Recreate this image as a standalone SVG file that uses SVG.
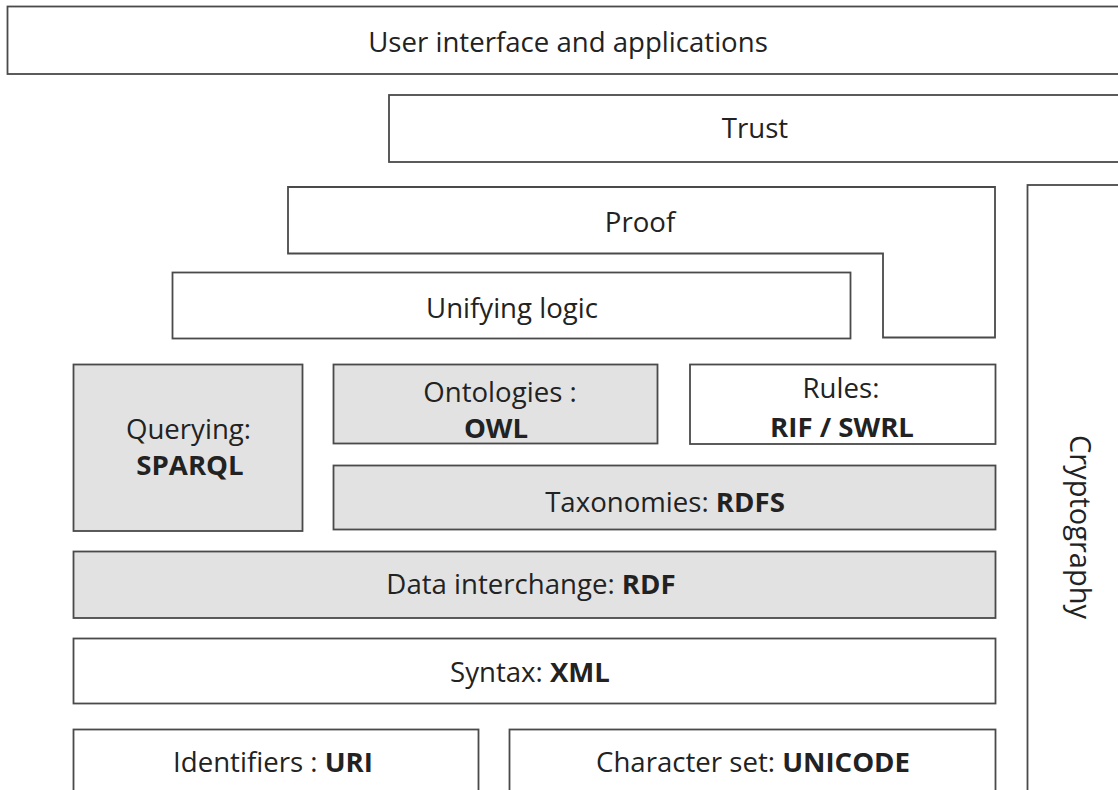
<svg xmlns="http://www.w3.org/2000/svg" width="1118" height="790" viewBox="0 0 1118 790">
<style>
.box{fill:#ffffff;stroke:#4a4a4a;stroke-width:1.8}
.grey{fill:#e2e2e2}
.t{font-family:"Open Sans","Noto Sans","Liberation Sans",sans-serif;font-size:27.6px;fill:#222;text-anchor:middle}
.b{font-weight:bold}
</style>
<rect width="1118" height="790" fill="#ffffff"/>
<g id="ui"><rect class="box" x="7.5" y="6.5" width="1130" height="67.5"/><text class="t" x="568" y="52">User interface and applications</text></g>
<g id="trust"><rect class="box" x="389" y="95" width="760" height="67"/><text class="t" x="755" y="138">Trust</text></g>
<g id="proof"><polygon class="box" points="288,187 995,187 995,337.5 883,337.5 883,253.5 288,253.5"/><text class="t" x="640" y="232">Proof</text></g>
<g id="crypto"><rect class="box" x="1027.5" y="185" width="120" height="700"/><text class="t" style="font-size:29px" transform="translate(1070,527) rotate(90)" x="0" y="0">Cryptography</text></g>
<g id="unifying"><rect class="box" x="172.5" y="272.5" width="678" height="66"/><text class="t" x="512" y="318">Unifying logic</text></g>
<g id="querying"><rect class="box grey" x="73.5" y="364.5" width="229" height="166.5"/><text class="t" x="188.5" y="439">Querying:</text><text class="t b" x="190" y="475">SPARQL</text></g>
<g id="ontologies"><rect class="box grey" x="333.5" y="364.5" width="324" height="79"/><text class="t" x="500" y="401.5">Ontologies :</text><text class="t b" x="496" y="437.5">OWL</text></g>
<g id="rules"><rect class="box" x="690" y="364.5" width="305.5" height="79.5"/><text class="t" x="841" y="398">Rules:</text><text class="t b" x="842" y="436.5">RIF / SWRL</text></g>
<g id="taxonomies"><rect class="box grey" x="333.5" y="465.5" width="662" height="64"/><text class="t" x="665" y="511.5">Taxonomies: <tspan class="b">RDFS</tspan></text></g>
<g id="data"><rect class="box grey" x="73.5" y="551.5" width="922" height="66.5"/><text class="t" x="531" y="594">Data interchange: <tspan class="b">RDF</tspan></text></g>
<g id="syntax"><rect class="box" x="73.5" y="638.5" width="922" height="65"/><text class="t" x="530" y="681.5">Syntax: <tspan class="b">XML</tspan></text></g>
<g id="identifiers"><rect class="box" x="73.5" y="729.5" width="405" height="100"/><text class="t" x="273" y="771.5">Identifiers : <tspan class="b">URI</tspan></text></g>
<g id="charset"><rect class="box" x="509.5" y="729.5" width="486" height="100"/><text class="t" x="753" y="771.5">Character set: <tspan class="b">UNICODE</tspan></text></g>
<g id="connectors"></g>
</svg>
